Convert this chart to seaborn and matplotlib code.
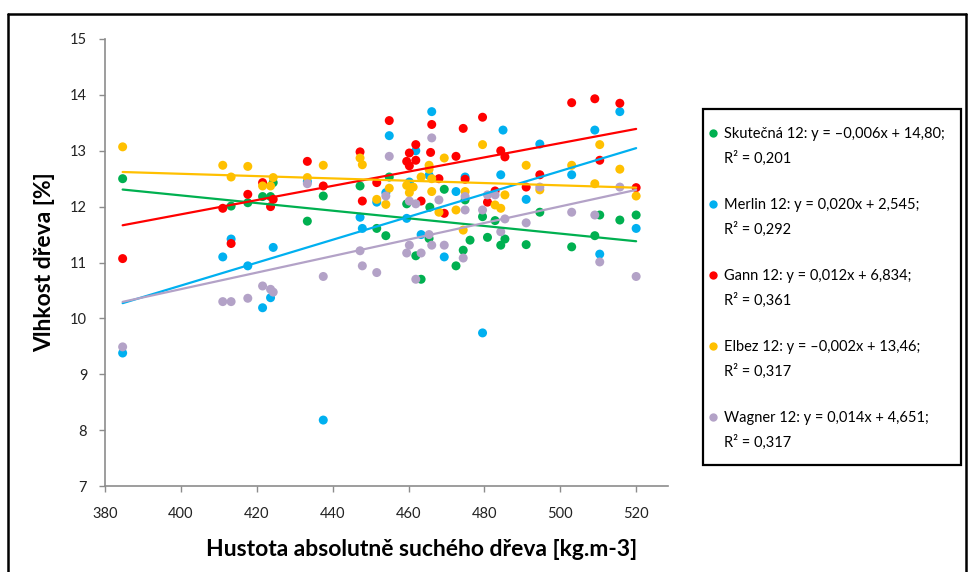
import numpy as np
import pandas as pd
import matplotlib
matplotlib.use("Agg")
import matplotlib.pyplot as plt
import seaborn as sns
from matplotlib.lines import Line2D
from matplotlib.patches import Rectangle

# ---------------- data ----------------
series_names = ["Skutečná 12", "Merlin 12", "Gann 12", "Elbez 12", "Wagner 12"]
equations = ["y = –0,006x + 14,80;", "y = 0,020x + 2,545;", "y = 0,012x + 6,834;",
             "y = –0,002x + 13,46;", "y = 0,014x + 4,651;"]
r2_labels = ["R² = 0,201", "R² = 0,292", "R² = 0,361", "R² = 0,317", "R² = 0,317"]
colors = ["#00B050", "#00B0F0", "#FF0000", "#FFC000", "#B3A2C7"]

skutecna_x = [384.6, 413.2, 417.6, 421.5, 423.6, 424.3, 433.3, 437.5, 447.2, 451.6,
              454.0, 454.9, 459.5, 461.9, 463.3, 465.6, 465.4, 469.4, 472.5, 474.4,
              474.9, 476.2, 479.5, 480.8, 482.8, 484.3, 485.4, 491.0, 494.6, 503.0,
              509.1, 510.4, 515.7, 520.0]
skutecna_y = [12.50, 12.01, 12.07, 12.18, 12.18, 12.43, 11.74, 12.19, 12.37, 11.61,
              11.48, 12.53, 12.05, 11.12, 10.70, 11.99, 11.43, 12.31, 10.94, 11.22,
              12.12, 11.40, 11.82, 11.45, 11.75, 11.31, 11.42, 11.32, 11.90, 11.28,
              11.48, 11.85, 11.76, 11.85]

merlin_x = [384.6, 411.0, 413.2, 417.6, 421.5, 423.6, 424.3, 433.3, 437.5, 447.2,
            447.8, 451.6, 454.0, 454.9, 459.5, 460.2, 461.9, 463.3, 465.4, 466.1,
            469.4, 472.5, 474.9, 479.5, 484.9, 484.3, 491.0, 494.6, 503.0, 509.1,
            510.4, 515.7, 520.0]
merlin_y = [9.38, 11.10, 11.42, 10.94, 10.19, 10.37, 11.27, 12.45, 8.18, 11.81,
            11.61, 12.08, 12.25, 13.27, 11.79, 12.44, 13.00, 11.50, 12.56, 13.70,
            11.10, 12.27, 12.53, 9.74, 13.37, 12.57, 12.13, 13.12, 12.57, 13.37,
            11.15, 13.70, 11.61]

gann_x = [384.6, 411.0, 413.2, 417.6, 421.5, 423.6, 424.3, 433.3, 437.5, 447.2,
          447.8, 451.6, 454.9, 459.5, 460.2, 460.2, 461.9, 461.9, 463.3, 466.1,
          465.8, 468.0, 469.4, 472.5, 474.4, 474.9, 479.5, 480.8, 482.8, 484.3,
          485.4, 491.0, 494.6, 503.0, 509.1, 510.4, 515.7, 520.0]
gann_y = [11.07, 11.97, 11.34, 12.22, 12.43, 12.00, 12.13, 12.81, 12.37, 12.98,
          12.10, 12.43, 13.54, 12.81, 12.96, 12.73, 13.11, 12.83, 12.10, 13.47,
          12.97, 12.50, 11.88, 12.90, 13.40, 12.49, 13.60, 12.08, 12.28, 13.00,
          12.89, 12.35, 12.57, 13.86, 13.93, 12.83, 13.85, 12.34]

elbez_x = [384.6, 411.0, 413.2, 417.6, 421.5, 423.6, 424.3, 433.3, 437.5, 447.2,
           447.8, 451.6, 454.0, 454.9, 459.5, 460.2, 461.2, 463.3, 465.4, 465.4,
           466.1, 466.1, 468.0, 469.4, 472.5, 474.4, 474.9, 479.5, 482.8, 484.3,
           485.4, 491.0, 494.6, 503.0, 509.1, 510.4, 515.7, 520.0]
elbez_y = [13.07, 12.74, 12.53, 12.72, 12.37, 12.37, 12.52, 12.52, 12.74, 12.87,
           12.75, 12.13, 12.04, 12.33, 12.38, 12.25, 12.35, 12.53, 12.74, 12.67,
           12.50, 12.27, 11.90, 12.87, 11.94, 11.58, 12.27, 13.11, 12.03, 11.97,
           12.21, 12.74, 12.30, 12.74, 12.41, 13.11, 12.67, 12.19]

wagner_x = [384.6, 411.0, 413.2, 417.6, 421.5, 423.6, 424.3, 433.3, 437.5, 447.2,
            447.8, 451.6, 454.0, 454.9, 459.5, 460.2, 460.2, 461.9, 461.9, 463.3,
            465.4, 466.1, 466.1, 468.0, 469.4, 474.9, 474.9, 474.4, 479.5, 480.8,
            482.8, 484.3, 485.4, 491.0, 494.6, 503.0, 509.1, 510.4, 515.7, 520.0]
wagner_y = [9.49, 10.30, 10.30, 10.36, 10.58, 10.52, 10.47, 12.41, 10.75, 11.21,
            10.94, 10.82, 12.19, 12.90, 11.17, 12.10, 11.31, 12.05, 10.70, 11.17,
            11.50, 13.23, 11.31, 12.12, 11.31, 12.18, 11.94, 11.08, 11.94, 12.21,
            12.21, 11.55, 11.78, 11.71, 12.35, 11.90, 11.85, 11.01, 12.35, 10.75]

x_ticks = [380, 400, 420, 440, 460, 480, 500, 520]
y_ticks = [7, 8, 9, 10, 11, 12, 13, 14, 15]
x_label = "Hustota absolutně suchého dřeva [kg.m-3]"
y_label = "Vlhkost dřeva [%]"

# ---------------- build table ----------------
xs = [skutecna_x, merlin_x, gann_x, elbez_x, wagner_x]
ys = [skutecna_y, merlin_y, gann_y, elbez_y, wagner_y]
frames = []
for name, xv, yv in zip(series_names, xs, ys):
    frames.append(pd.DataFrame({"x": xv, "y": yv, "series": name}))
df = pd.concat(frames, ignore_index=True)

# ---------------- style ----------------
sns.set_theme(style="white")
plt.rcParams["font.family"] = ["Lato", "DejaVu Sans"]

W, H = 969, 572
fig = plt.figure(figsize=(W / 100, H / 100), dpi=100)
ax_left, ax_right, ax_top, ax_bottom = 105.2, 668, 39, 486
ax = fig.add_axes([ax_left / W, 1 - ax_bottom / H,
                   (ax_right - ax_left) / W, (ax_bottom - ax_top) / H])

palette = dict(zip(series_names, colors))
sns.scatterplot(data=df, x="x", y="y", hue="series", palette=palette,
                s=42, linewidth=0, ax=ax, legend=False, zorder=3)
for name, c in zip(series_names, colors):
    sub = df[df["series"] == name]
    sns.regplot(data=sub, x="x", y="y", scatter=False, ci=None, truncate=True,
                color=c, line_kws={"lw": 1.6, "zorder": 4}, ax=ax)

ax.set_xlim(380, 528.4)
ax.set_ylim(7, 15)
ax.set_xticks(x_ticks)
ax.set_yticks(y_ticks)
ax.grid(False)
for s in ["top", "right"]:
    ax.spines[s].set_visible(False)
for s in ["left", "bottom"]:
    ax.spines[s].set_color("#8C8C8C")
    ax.spines[s].set_linewidth(1.2)
ax.tick_params(axis="both", which="major", direction="out", length=4,
               width=1, color="#8C8C8C", labelsize=10.5, labelcolor="#222222",
               left=True, bottom=True)
ax.tick_params(axis="x", pad=11)
ax.tick_params(axis="y", pad=9)

ax.set_xlabel(x_label, fontsize=16.5, fontweight="bold", color="black")
ax.set_ylabel(y_label, fontsize=16.5, fontweight="bold", color="black")
ax.xaxis.set_label_coords((422 - ax_left) / (ax_right - ax_left),
                          (ax_bottom - 550) / (ax_bottom - ax_top))
ax.xaxis.label.set_va("center")
ax.yaxis.set_label_coords((45 - ax_left) / (ax_right - ax_left), 0.5)
ax.yaxis.label.set_va("center")

# ---------------- legend ----------------
handles, labels = [], []
for i, (name, eq, r2, c) in enumerate(zip(series_names, equations, r2_labels, colors)):
    handles.append(Line2D([0], [0], marker="o", linestyle="none", markersize=6,
                          markerfacecolor=c, markeredgewidth=0))
    labels.append(f"{name}: {eq}")
    handles.append(Line2D([], [], linestyle="none"))
    labels.append(r2)
    if i < len(series_names) - 1:
        handles.append(Line2D([], [], linestyle="none"))
        labels.append(" ")

leg = fig.legend(handles, labels, loc="upper left",
                 bbox_to_anchor=(709 / W, 1 - 127 / H),
                 frameon=False, fontsize=10.5, labelspacing=0.64,
                 handlelength=0.6, handletextpad=0.4, borderpad=0,
                 borderaxespad=0)
for t in leg.get_texts():
    t.set_color("black")

fig.patches.append(Rectangle((703 / W, 1 - 464.7 / H), (961 - 703) / W,
                             (464.7 - 109.4) / H, transform=fig.transFigure,
                             fill=False, edgecolor="black", linewidth=1.6))

# ---------------- outer frame ----------------
fx0, fx1, fy = 8 / W, 966 / W, 1 - 13.5 / H
fig.lines.append(Line2D([fx0, fx1], [fy, fy], transform=fig.transFigure,
                        color="black", lw=1.8))
fig.lines.append(Line2D([fx0, fx0], [fy, 0], transform=fig.transFigure,
                        color="black", lw=1.8))
fig.lines.append(Line2D([fx1, fx1], [fy, 0], transform=fig.transFigure,
                        color="black", lw=1.8))

fig.savefig("out.png", dpi=100, facecolor="white")
